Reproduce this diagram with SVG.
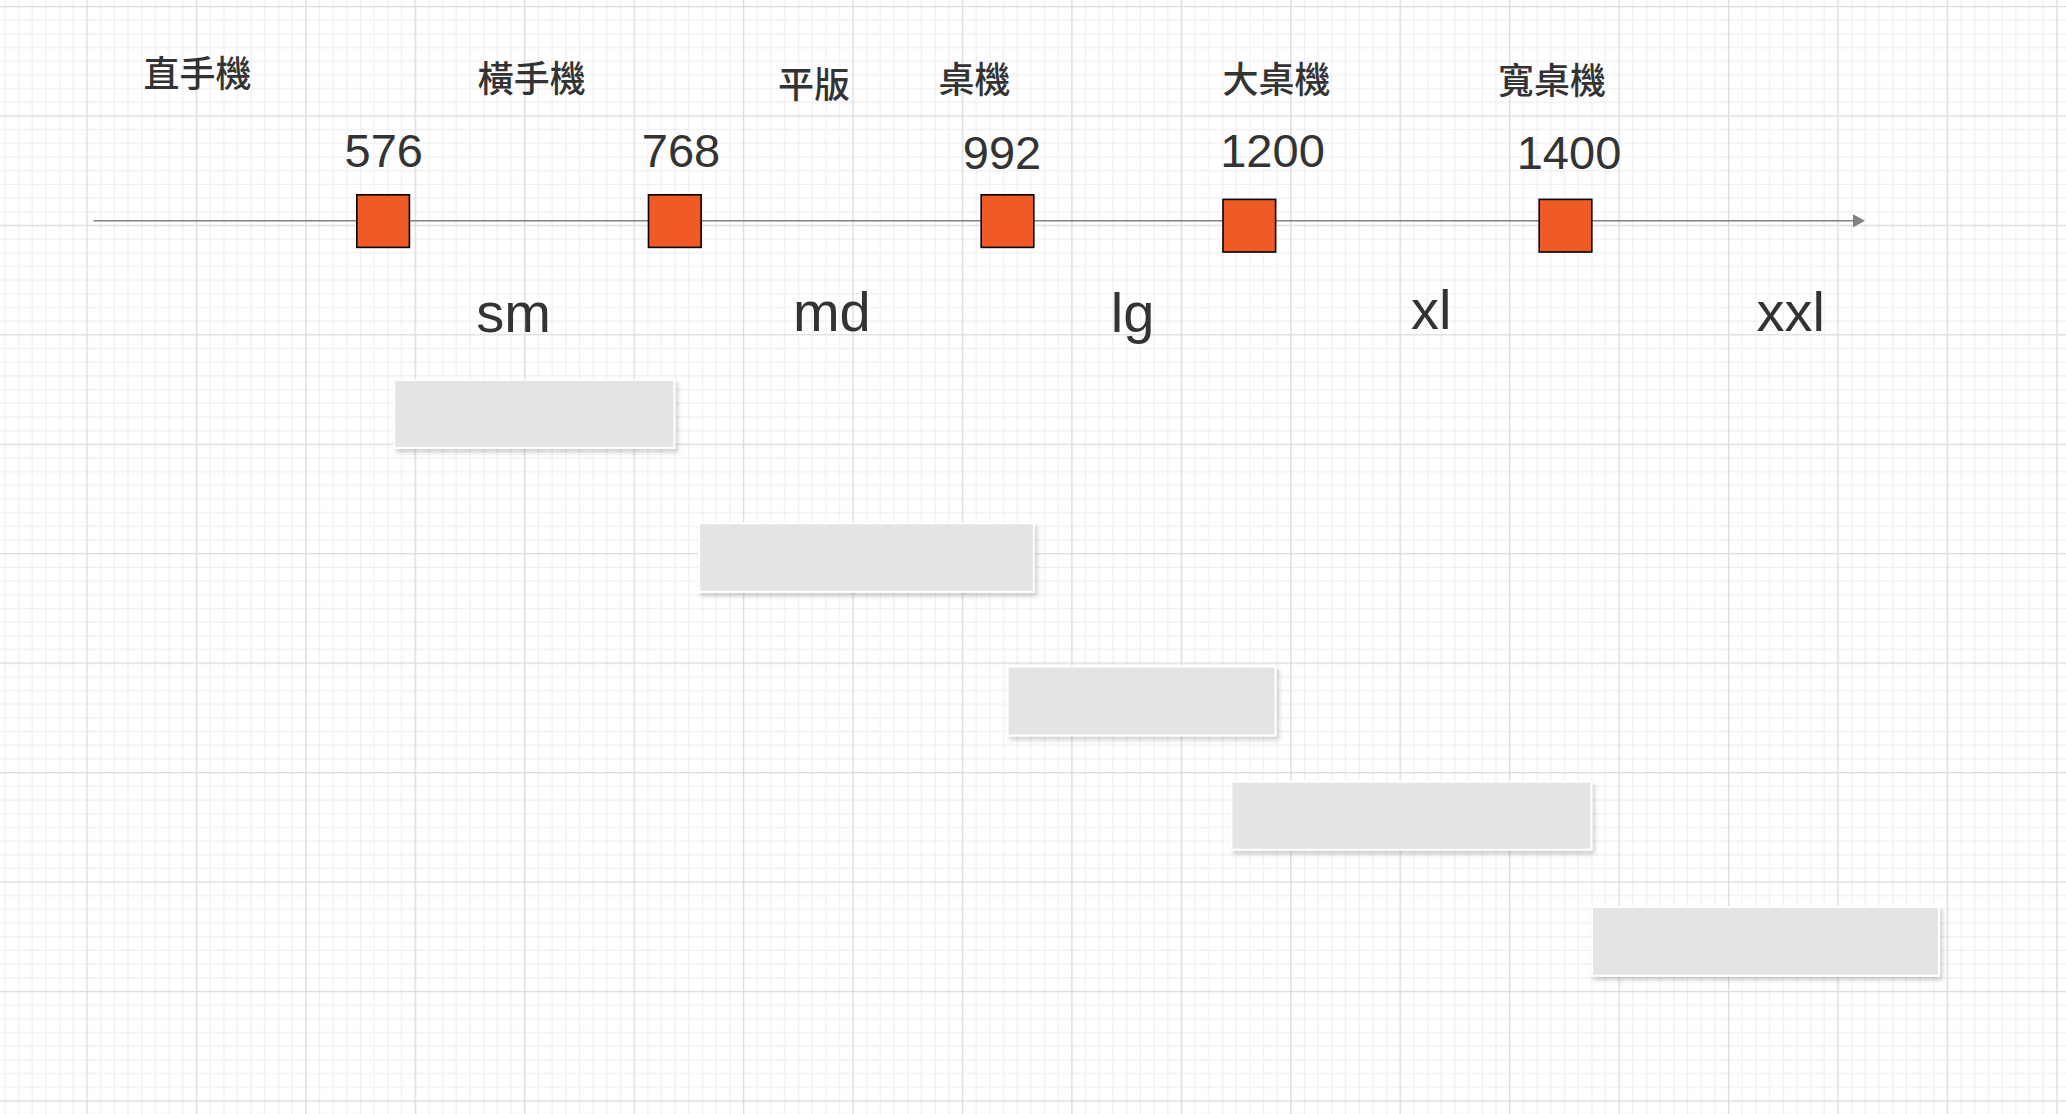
<svg xmlns="http://www.w3.org/2000/svg" width="2066" height="1114" viewBox="0 0 2066 1114">
  <style>
    .num { font-family: "Liberation Sans", Arial, sans-serif; font-size: 47px; fill: #333333; text-anchor: middle; }
    .lbl { font-family: "Liberation Sans", Arial, sans-serif; font-size: 56px; fill: #333333; text-anchor: middle; }
    .cjk { font-family: "Noto Sans CJK TC", "Noto Sans CJK SC", sans-serif; font-size: 36px; font-weight: 500; fill: #333333; text-anchor: middle; }
    .sq { fill: #f05a24; stroke: #000000; stroke-width: 1.6; }
    .bar { fill: #e4e4e4; stroke: #ffffff; stroke-width: 2; }
    .axis { fill: none; stroke: #808080; stroke-width: 1.4; }
  </style>
  <defs>
    <pattern id="grid" patternUnits="userSpaceOnUse" x="86.3" y="5.9" width="109.44" height="109.44">
      <path d="M14.38 0V109.44M28.06 0V109.44M41.74 0V109.44M55.42 0V109.44M69.1 0V109.44M82.78 0V109.44M96.46 0V109.44M0 14.38H109.44M0 28.06H109.44M0 41.74H109.44M0 55.42H109.44M0 69.1H109.44M0 82.78H109.44M0 96.46H109.44" fill="none" stroke="#efefef" stroke-width="1.2"/>
      <path d="M0.7 0V109.44M0 0.7H109.44" fill="none" stroke="#dadada" stroke-width="1.3"/>
    </pattern>
    <filter id="shadow" x="-10%" y="-20%" width="130%" height="160%">
      <feDropShadow dx="2.5" dy="3.5" stdDeviation="2.2" flood-color="#000000" flood-opacity="0.18"/>
    </filter>
    <marker id="arrow" viewBox="0 0 12 13" markerWidth="12" markerHeight="13" refX="2" refY="6.5" orient="auto" markerUnits="userSpaceOnUse">
      <path d="M0 0L12 6.5L0 13Z" fill="#808080"/>
    </marker>
  </defs>
  <rect width="2066" height="1114" fill="#ffffff"/>
  <rect width="2066" height="1114" fill="url(#grid)"/>

  <g id="connectors">
    <line class="axis" x1="93.7" y1="220.8" x2="1855" y2="220.8" marker-end="url(#arrow)"/>
  </g>

  <g id="device-portrait"><text class="cjk" x="197.5" y="86.5">直手機</text></g>
  <g id="device-landscape"><text class="cjk" x="531.7" y="92.3">橫手機</text></g>
  <g id="device-tablet"><text class="cjk" x="814" y="98">平版</text></g>
  <g id="device-desktop"><text class="cjk" x="974.6" y="93">桌機</text></g>
  <g id="device-large-desktop"><text class="cjk" x="1276.4" y="93">大桌機</text></g>
  <g id="device-wide-desktop"><text class="cjk" x="1552" y="93.5">寬桌機</text></g>

  <g id="bp-576"><text class="num" x="383.8" y="166.7">576</text></g>
  <g id="bp-768"><text class="num" x="681" y="166.7">768</text></g>
  <g id="bp-992"><text class="num" x="1002" y="169.3">992</text></g>
  <g id="bp-1200"><text class="num" x="1272.5" y="166.7">1200</text></g>
  <g id="bp-1400"><text class="num" x="1569" y="169.3">1400</text></g>

  <g id="marker-576"><rect class="sq" x="356.8" y="194.8" width="52.6" height="52.6"/></g>
  <g id="marker-768"><rect class="sq" x="648.5" y="194.8" width="52.6" height="52.6"/></g>
  <g id="marker-992"><rect class="sq" x="981.2" y="194.8" width="52.6" height="52.6"/></g>
  <g id="marker-1200"><rect class="sq" x="1223" y="199.4" width="52.6" height="52.6"/></g>
  <g id="marker-1400"><rect class="sq" x="1539.2" y="199.4" width="52.6" height="52.6"/></g>

  <g id="size-sm"><text class="lbl" x="513.7" y="331.7">sm</text></g>
  <g id="size-md"><text class="lbl" x="831.8" y="330.7">md</text></g>
  <g id="size-lg"><text class="lbl" x="1132.5" y="331.7">lg</text></g>
  <g id="size-xl"><text class="lbl" x="1431.2" y="329.3">xl</text></g>
  <g id="size-xxl"><text class="lbl" x="1790.8" y="330.7">xxl</text></g>

  <g id="range-sm"><rect class="bar" filter="url(#shadow)" x="394.3" y="380" width="280.2" height="68"/></g>
  <g id="range-md"><rect class="bar" filter="url(#shadow)" x="699.2" y="523.3" width="334.6" height="68.5"/></g>
  <g id="range-lg"><rect class="bar" filter="url(#shadow)" x="1007.6" y="666.6" width="268" height="68.8"/></g>
  <g id="range-xl"><rect class="bar" filter="url(#shadow)" x="1231.4" y="781.7" width="360" height="68"/></g>
  <g id="range-xxl"><rect class="bar" filter="url(#shadow)" x="1592" y="907" width="347" height="68.7"/></g>
</svg>
